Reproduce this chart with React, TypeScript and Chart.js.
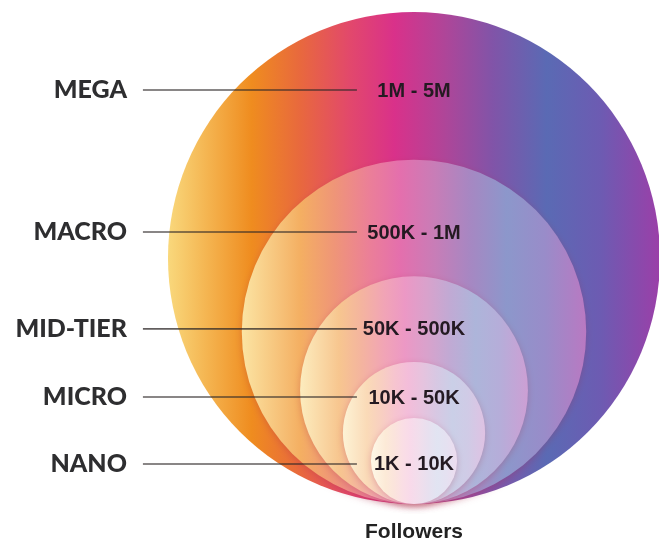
import React, { useEffect, useRef } from "react";
import { Chart, registerables } from "chart.js";

Chart.register(...registerables);

// ---- data ----
const tiers = ["MEGA", "MACRO", "MID-TIER", "MICRO", "NANO"];
const followerRanges = ["1M - 5M", "500K - 1M", "50K - 500K", "10K - 50K", "1K - 10K"];
// relative circle sizes (outer circle = 100)
const circleSizes = [100, 70, 46.3, 28.9, 17.5];
// heights (in the same units) at which each tier is labelled
const labelHeights = [168.3, 110.6, 71.2, 43.5, 16.3];
const axisTitle = "Followers";

// ---- style ----
const whiteMix = [0, 0.3, 0.5, 0.68, 0.82];
const gradientStops: [number, string][] = [
  [0, "#f9d87c"],
  [0.17, "#ef8c1f"],
  [0.27, "#e8683e"],
  [0.37, "#e2486c"],
  [0.46, "#d9318a"],
  [0.56, "#b04598"],
  [0.66, "#8154a8"],
  [0.77, "#5a6ab4"],
  [0.88, "#6d5bb2"],
  [1, "#9b3fa8"],
];
const X_MIN = -168.3;
const X_MAX = 99.6;
const Y_MIN = -14.6;
const Y_MAX = 204.9;
const TIER_LABEL_X = -116.7;
const LINE_START_X = -110.2;
const LINE_END_X = -23.2;
const TITLE_Y = -11.4;

function mixWhite(hex: string, f: number) {
  const n = parseInt(hex.slice(1), 16);
  const r = (n >> 16) & 255;
  const g = (n >> 8) & 255;
  const b = n & 255;
  const m = (c: number) => Math.round(c + (255 - c) * f);
  return `rgb(${m(r)},${m(g)},${m(b)})`;
}

export default function App() {
  const ref = useRef<HTMLCanvasElement>(null);

  useEffect(() => {
    document.body.style.margin = "0";
    if (!ref.current) return;

    const radiusPx = (chart: any, size: number) => {
      const s = chart.scales.y;
      if (!s) return 0;
      const v = Math.abs(s.getPixelForValue(0) - s.getPixelForValue(size));
      return isFinite(v) ? v : 0;
    };
    const fillFor = (chart: any, i: number) => {
      const xs = chart.scales.x;
      if (!xs) return "#ccc";
      const sz = circleSizes[i];
      const x0 = xs.getPixelForValue(-sz);
      const x1 = xs.getPixelForValue(sz);
      if (!isFinite(x0) || !isFinite(x1) || x1 === x0) return "#ccc";
      const g = chart.ctx.createLinearGradient(x0, 0, x1, 0);
      gradientStops.forEach(([t, col]) => g.addColorStop(t, mixWhite(col, whiteMix[i])));
      return g;
    };

    const points = circleSizes.map((s) => ({ x: 0, y: s }));

    const labelPlugin = {
      id: "labels",
      beforeDatasetDraw(chart: any, args: any) {
        const ctx = chart.ctx;
        ctx.save();
        if (args.index === 0) {
          ctx.shadowColor = "rgba(170,40,70,0.28)";
          ctx.shadowBlur = 7;
          ctx.shadowOffsetY = 2;
        }
      },
      afterDatasetDraw(chart: any) {
        chart.ctx.restore();
      },
      afterDatasetsDraw(chart: any) {
        const ctx = chart.ctx;
        const xs = chart.scales.x;
        const ys = chart.scales.y;
        ctx.save();
        tiers.forEach((t, i) => {
          const y = ys.getPixelForValue(labelHeights[i]);
          ctx.strokeStyle = "rgba(45,40,40,0.75)";
          ctx.lineWidth = 1.6;
          ctx.beginPath();
          ctx.moveTo(xs.getPixelForValue(LINE_START_X), y);
          ctx.lineTo(xs.getPixelForValue(LINE_END_X), y);
          ctx.stroke();

          ctx.fillStyle = "#2e2e30";
          ctx.font = "900 25px Lato";
          ctx.textAlign = "right";
          ctx.textBaseline = "middle";
          ctx.fillText(t, xs.getPixelForValue(TIER_LABEL_X), y);

          ctx.fillStyle = "#241a22";
          ctx.font = "bold 20px 'Liberation Sans'";
          ctx.textAlign = "center";
          ctx.fillText(followerRanges[i], xs.getPixelForValue(0), y + 1);
        });
        ctx.fillStyle = "#222";
        ctx.font = "bold 21px 'Liberation Sans'";
        ctx.textAlign = "center";
        ctx.textBaseline = "middle";
        ctx.fillText(axisTitle, xs.getPixelForValue(0), ys.getPixelForValue(TITLE_Y));
        ctx.restore();
      },
    };

    const chart = new Chart(ref.current, {
      type: "scatter",
      data: {
        datasets: [
          {
            label: "inner",
            data: points.slice(1),
            order: 1,
            clip: false,
            pointRadius: (c: any) =>
              c.dataIndex === undefined ? 0 : radiusPx(c.chart, circleSizes[c.dataIndex + 1]),
            backgroundColor: (c: any) =>
              c.dataIndex === undefined ? "#ccc" : fillFor(c.chart, c.dataIndex + 1),
            borderWidth: 0,
          },
          {
            label: "outer",
            data: points.slice(0, 1),
            order: 2,
            clip: false,
            pointRadius: (c: any) =>
              c.dataIndex === undefined ? 0 : radiusPx(c.chart, circleSizes[c.dataIndex]),
            backgroundColor: (c: any) =>
              c.dataIndex === undefined ? "#ccc" : fillFor(c.chart, c.dataIndex),
            borderWidth: 0,
          },
        ],
      },
      options: {
        animation: false,
        responsive: false,
        devicePixelRatio: 1,
        events: [],
        layout: { padding: 0, autoPadding: false },
        plugins: { legend: { display: false }, tooltip: { enabled: false } },
        scales: {
          x: { type: "linear", display: false, min: X_MIN, max: X_MAX },
          y: { type: "linear", display: false, min: Y_MIN, max: Y_MAX },
        },
      },
      plugins: [labelPlugin],
    });

    chart.update();
    if ((document as any).fonts) {
      Promise.all([
        document.fonts.load("900 25px Lato"),
        document.fonts.load("bold 20px 'Liberation Sans'"),
      ]).then(() => chart.update()).catch(() => {});
    }

    return () => chart.destroy();
  }, []);

  return (
    <div style={{ width: 659, height: 540, background: "#fff" }}>
      <canvas ref={ref} width={659} height={540} />
    </div>
  );
}
